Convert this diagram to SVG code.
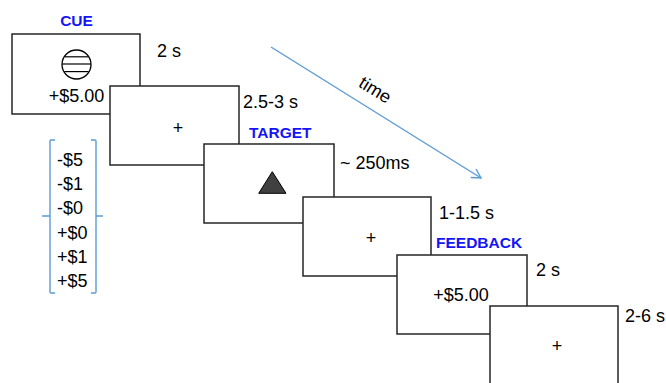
<svg xmlns="http://www.w3.org/2000/svg" width="666" height="383" viewBox="0 0 666 383">
<defs>
<style>
.box{fill:#fff;stroke:#262626;stroke-width:1.5}
.t{font-family:"Liberation Sans",Arial,sans-serif;font-size:18px;fill:#000}
.c{text-anchor:middle}
.lab{font-family:"Liberation Sans",Arial,sans-serif;font-size:15.5px;font-weight:bold;fill:#1414f5}
.blue{fill:none;stroke:#5b9bd5;stroke-width:1.4}
</style>
<marker id="ah" markerWidth="14" markerHeight="14" refX="10" refY="5" orient="auto" markerUnits="userSpaceOnUse" overflow="visible">
<path d="M1,0 L10,5 L1,10" fill="none" stroke="#5b9bd5" stroke-width="1.4"/>
</marker>
</defs>
<g id="connectors">
<line class="blue" x1="271" y1="47" x2="481" y2="178" marker-end="url(#ah)"/>
<text class="t" transform="translate(372,95) rotate(31.8)" text-anchor="middle">time</text>
</g>
<g id="cue">
<text class="lab c" x="76.5" y="26">CUE</text>
<rect class="box" x="12" y="34" width="128" height="80"/>
<circle cx="76.5" cy="64.5" r="14.5" fill="#fff" stroke="#000" stroke-width="1.3"/>
<line x1="64.6" y1="56.8" x2="88.4" y2="56.8" stroke="#000" stroke-width="1.2"/>
<line x1="62" y1="64" x2="91" y2="64" stroke="#000" stroke-width="1.2"/>
<line x1="64.3" y1="71.6" x2="88.7" y2="71.6" stroke="#000" stroke-width="1.2"/>
<text class="t c" x="76.5" y="102">+$5.00</text>
<text class="t" x="157" y="57">2 s</text>
</g>
<g id="fixation1">
<rect class="box" x="110" y="86" width="129" height="79"/>
<text class="t c" x="178" y="134">+</text>
<text class="t" x="243" y="108">2.5-3 s</text>
</g>
<g id="target">
<text class="lab" x="249" y="138">TARGET</text>
<rect class="box" x="204" y="144" width="130" height="79"/>
<polygon points="272.3,171.7 258.7,193.3 286,193.3" fill="#404040" stroke="#000" stroke-width="1"/>
<text class="t" x="340" y="169">~ 250ms</text>
</g>
<g id="fixation2">
<rect class="box" x="303" y="197" width="128" height="79"/>
<text class="t c" x="371" y="243.5">+</text>
<text class="t" x="439" y="219">1-1.5 s</text>
</g>
<g id="feedback">
<text class="lab" x="436" y="248">FEEDBACK</text>
<rect class="box" x="397" y="255" width="130" height="79"/>
<text class="t c" x="461" y="300.5">+$5.00</text>
<text class="t" x="536" y="276">2 s</text>
</g>
<g id="iti">
<rect class="box" x="490" y="306" width="128" height="90"/>
<text class="t c" x="557" y="352">+</text>
<text class="t" x="625" y="322">2-6 s</text>
</g>
<g id="values">
<path class="blue" d="M55,140 L51,140 Q50,140 50,141 L50,216 L42,216 M50,216 L50,292 Q50,293 51,293 L55,293"/>
<path class="blue" d="M91,140 L95,140 Q96,140 96,141 L96,216 L103,216 M96,216 L96,292 Q96,293 95,293 L91,293"/>
<text class="t" x="57" y="166">-$5</text>
<text class="t" x="57" y="190">-$1</text>
<text class="t" x="57" y="214">-$0</text>
<text class="t" x="57" y="238.5">+$0</text>
<text class="t" x="57" y="262.5">+$1</text>
<text class="t" x="57" y="286.5">+$5</text>
</g>
</svg>
